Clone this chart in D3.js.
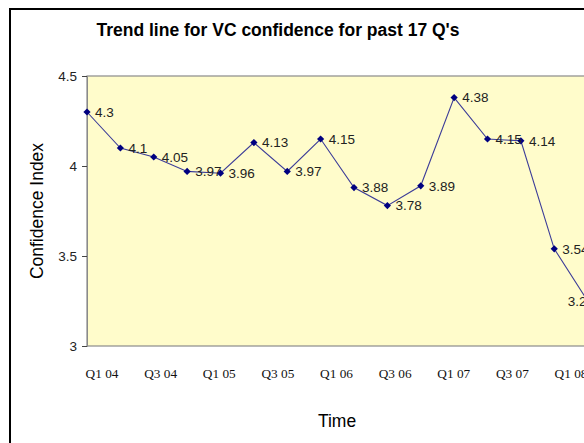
<!DOCTYPE html>
<html>
<head>
<meta charset="utf-8">
<script src="https://cdn.jsdelivr.net/npm/d3@7"></script>
<style>
  body { margin: 0; background: #fff; overflow: hidden; }
  svg { display: block; }
</style>
</head>
<body>
<div id="chart" style="width:584px;height:443px;"></div>
<script>
// quarters shown on the axis (17 quarters, last one falls outside the picture)
const categories = ["Q1 04", "Q2 04", "Q3 04", "Q4 04", "Q1 05", "Q2 05", "Q3 05", "Q4 05",
    "Q1 06", "Q2 06", "Q3 06", "Q4 06", "Q1 07", "Q2 07", "Q3 07", "Q4 07", "Q1 08"];
const values = [4.3, 4.1, 4.05, 3.97, 3.96, 4.13, 3.97, 4.15, 3.88, 3.78, 3.89, 4.38, 4.15, 4.14, 3.54, 3.25];
const valueLabels = ["4.3", "4.1", "4.05", "3.97", "3.96", "4.13", "3.97", "4.15", "3.88", "3.78",
    "3.89", "4.38", "4.15", "4.14", "3.54", "3.25"];
const xTickLabels = ["Q1 04", "Q3 04", "Q1 05", "Q3 05", "Q1 06", "Q3 06", "Q1 07", "Q3 07", "Q1 08"];
const yTicks = [3, 3.5, 4, 4.5];

const W = 584, H = 443;
const plot = { left: 87, top: 76, bottom: 346, right: 621 };

const svg = d3.select("#chart")
    .append("svg")
    .attr("width", W)
    .attr("height", H);

// chart frame (right and bottom edges are outside the picture)
svg.append("rect")
    .attr("x", 10).attr("y", 9)
    .attr("width", 700).attr("height", 500)
    .attr("fill", "#fff")
    .attr("stroke", "#000")
    .attr("stroke-width", 2);

const xScale = d3.scalePoint().domain(categories).range([plot.left, plot.right]);
const yScale = d3.scaleLinear().domain([3, 4.5]).range([plot.bottom, plot.top]);
const labelScale = d3.scalePoint().domain(xTickLabels).range([102, 571]);

svg.append("rect")
    .attr("x", plot.left).attr("y", plot.top)
    .attr("width", plot.right - plot.left)
    .attr("height", plot.bottom - plot.top)
    .attr("fill", "#fffccb")
    .attr("stroke", "#8a8a8a")
    .attr("stroke-width", 1.2);

// y axis
const yAxis = d3.axisLeft(yScale).tickValues(yTicks).tickSize(5).tickPadding(5)
    .tickFormat(d => d3.format("")(d));
const gy = svg.append("g")
    .attr("transform", `translate(${plot.left},0)`)
    .call(yAxis);
gy.select(".domain").attr("stroke", "#8a8a8a");
gy.selectAll(".tick line").attr("stroke", "#444");
gy.selectAll(".tick text")
    .attr("font-family", "Liberation Sans, Arial, sans-serif")
    .attr("font-size", "13.5px")
    .attr("fill", "#222");

// x tick labels
svg.selectAll(".xLabel")
    .data(xTickLabels)
    .enter().append("text")
    .attr("class", "xLabel")
    .attr("x", d => labelScale(d))
    .attr("y", 378)
    .attr("text-anchor", "middle")
    .attr("font-family", "Liberation Serif, Times New Roman, serif")
    .attr("font-size", "13.3px")
    .attr("fill", "#111")
    .text(d => d);

// line
const pts = values.map((v, i) => ({ cat: categories[i], v, label: valueLabels[i] }));
svg.append("path")
    .datum(pts)
    .attr("fill", "none")
    .attr("stroke", "#3c3c98")
    .attr("stroke-width", 1.1)
    .attr("d", d3.line().x(d => xScale(d.cat)).y(d => yScale(d.v)));

svg.selectAll(".pt")
    .data(pts)
    .enter().append("path")
    .attr("class", "pt")
    .attr("transform", d => `translate(${xScale(d.cat)},${yScale(d.v)}) rotate(45)`)
    .attr("d", d3.symbol(d3.symbolSquare, 26))
    .attr("fill", "#000080");

// data labels, kept inside the visible picture like Excel does
svg.selectAll(".valLabel")
    .data(pts)
    .enter().append("text")
    .attr("class", "valLabel")
    .attr("y", d => yScale(d.v))
    .attr("dy", "0.35em")
    .attr("font-family", "Liberation Sans, Arial, sans-serif")
    .attr("font-size", "13.5px")
    .attr("fill", "#222")
    .text(d => d.label)
    .attr("x", function (d) {
        const w = this.getComputedTextLength();
        return Math.min(xScale(d.cat) + 8, W - w + 10);
    });

// titles
svg.append("text")
    .attr("x", 278).attr("y", 36)
    .attr("text-anchor", "middle")
    .attr("font-family", "Liberation Sans, Arial, sans-serif")
    .attr("font-weight", "bold")
    .attr("font-size", "17.5px")
    .text("Trend line for VC confidence for past 17 Q's");

svg.append("text")
    .attr("transform", "translate(43,211) rotate(-90)")
    .attr("text-anchor", "middle")
    .attr("font-family", "Liberation Sans, Arial, sans-serif")
    .attr("font-size", "17.5px")
    .text("Confidence Index");

svg.append("text")
    .attr("x", 337).attr("y", 427)
    .attr("text-anchor", "middle")
    .attr("font-family", "Liberation Sans, Arial, sans-serif")
    .attr("font-size", "17.5px")
    .text("Time");
</script>
</body>
</html>
